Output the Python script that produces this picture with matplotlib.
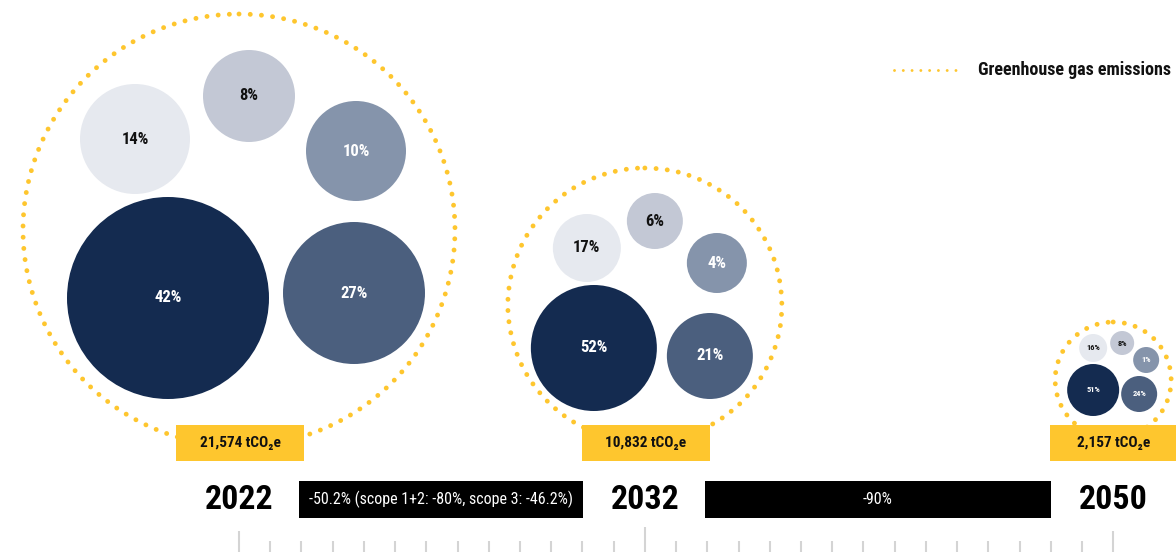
import matplotlib
matplotlib.use('Agg')
import matplotlib.pyplot as plt
from matplotlib.patches import Circle, Rectangle

# ---------------- data ----------------
years = ['2022', '2032', '2050']
totals = ['21,574', '10,832', '2,157']
share_navy = [42, 52, 51]
share_slate = [27, 21, 24]
share_pale = [14, 17, 16]
share_grey = [8, 6, 8]
share_mid = [10, 4, 1]
reductions = ['-50.2% (scope 1+2: -80%, scope 3: -46.2%)', '-90%']
legend_label = 'Greenhouse gas emissions'
year_tick_index = [0, 13, 28]
n_ticks = 29

# ---------------- style / layout ----------------
YELLOW = '#fec62e'
cat_colors = ['#142b50', '#4b5f7e', '#e6e9ef', '#c3c8d5', '#8594ab']
txt_colors = ['white', 'white', '#111111', '#111111', 'white']
FONTS = ['Roboto Condensed', 'Liberation Sans Narrow', 'DejaVu Sans Condensed', 'DejaVu Sans']

W, H = 1176, 552
tick_x0, tick_step = 239, 31.22
outer_r = [216, 137, 58]
outer_cy = [230, 305, 380]
# per group: (dx, dy, r) for navy, slate, pale, grey, mid
bubble_layout = [
    [(-71, 68, 101), (115, 63, 71), (-104, -91, 55), (10, -134, 46), (117, -79, 50)],
    [(-51, 43, 63), (65, 51, 43), (-58, -57, 34), (10, -84, 28), (72, -42, 30)],
    [(-20, 10, 26), (26, 14, 18), (-20, -32, 14), (9, -37, 12), (33, -20, 13)],
]
label_sizes = [12, 12, 6]

fig = plt.figure(figsize=(W / 100, H / 100), dpi=100)
ax = fig.add_axes([0, 0, 1, 1])
ax.set_xlim(0, W)
ax.set_ylim(H, 0)
ax.axis('off')

tick_x = [tick_x0 + i * tick_step for i in range(n_ticks)]
group_x = [tick_x[i] for i in year_tick_index]

shares = list(zip(share_navy, share_slate, share_pale, share_grey, share_mid))

for g in range(len(years)):
    cx, cy = group_x[g], outer_cy[g]
    outer = Circle((cx, cy), outer_r[g], fill=False, edgecolor=YELLOW, lw=3.5,
                   linestyle=(0, (0.01, 2.3)), zorder=1)
    outer.set_capstyle('round')
    ax.add_patch(outer)
    for k, (dx, dy, r) in enumerate(bubble_layout[g]):
        ax.add_patch(Circle((cx + dx, cy + dy), r, facecolor=cat_colors[k],
                            edgecolor='none', zorder=2))
        ax.text(cx + dx, cy + dy, f'{shares[g][k]}%', color=txt_colors[k],
                fontsize=label_sizes[g], fontweight='bold', family=FONTS,
                ha='center', va='center', zorder=3)
    # total label box
    bw, bh, by = 128, 36, 425
    ax.add_patch(Rectangle((cx + 1 - bw / 2, by), bw, bh, facecolor=YELLOW,
                           edgecolor='none', zorder=4))
    ax.text(cx + 1, by + bh / 2, f'{totals[g]} tCO\u2082e', fontsize=11,
            fontweight='bold', family=FONTS, ha='center', va='center',
            color='#111111', zorder=5)
    # year label
    ax.text(cx, 500, years[g], fontsize=24.5, fontweight='bold', family=FONTS,
            ha='center', va='center', color='black', zorder=5)

# reduction bars between years
for i, txt in enumerate(reductions):
    x0 = group_x[i] + 60
    x1 = group_x[i + 1] - 62
    ax.add_patch(Rectangle((x0, 481), x1 - x0, 37, facecolor='black',
                           edgecolor='none', zorder=4))
    ax.text((x0 + x1) / 2, 499.5, txt, color='white', fontsize=11.5,
            family=FONTS, ha='center', va='center', zorder=5)

# timeline ticks
for i, x in enumerate(tick_x):
    if i in year_tick_index:
        top = 527 if i == year_tick_index[1] else 531
    else:
        top = 541
    ax.plot([x, x], [top, H], color='#d4d4d4', lw=1.5, solid_capstyle='butt', zorder=1)

# legend
ax.plot([894, 958], [70, 70], color=YELLOW, lw=2.1, linestyle=(0, (0.01, 3.0)),
        dash_capstyle='round')
ax.text(978, 70, legend_label, fontsize=13, fontweight='bold', family=FONTS,
        ha='left', va='center', color='#111111')

fig.savefig('out.png', dpi=100)
